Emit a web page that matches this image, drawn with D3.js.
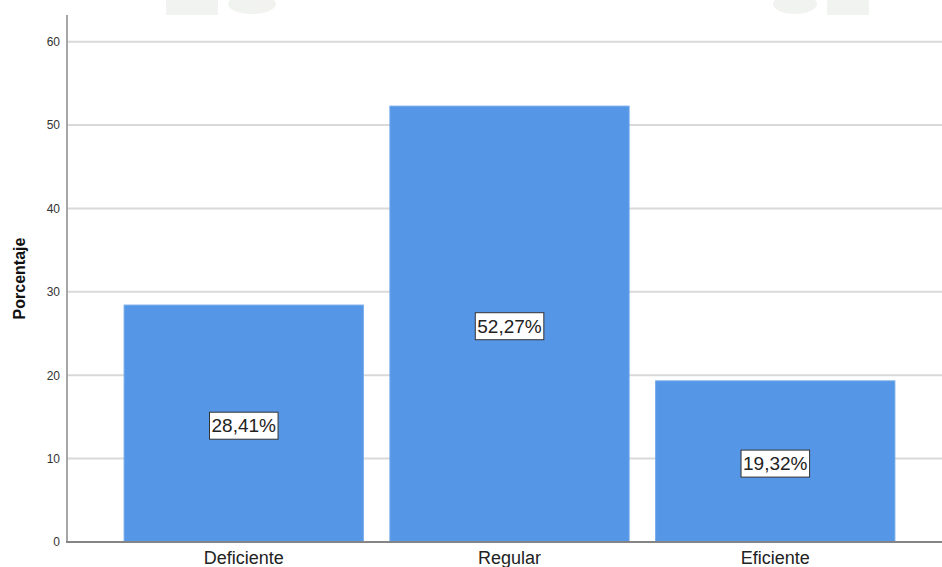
<!DOCTYPE html>
<html>
<head>
<meta charset="utf-8">
<script src="https://cdn.jsdelivr.net/npm/d3@7"></script>
<style>
  html, body { margin: 0; padding: 0; background: #fff; }
  svg { display: block; font-family: "Liberation Sans", Arial, sans-serif; }
</style>
</head>
<body>
<svg id="chart" width="942" height="567"></svg>
<script>
// Percentage of respondents per rating level
const categories = ["Deficiente", "Regular", "Eficiente"];
const percentages = [28.41, 52.27, 19.32];
const yTicks = [0, 10, 20, 30, 40, 50, 60];
const yTitle = "Porcentaje";

const svg = d3.select("#chart");
const W = 942, H = 567;
const plot = { left: 67, right: 952, top: 15, bottom: 542 };

// faint decorative shapes along the top edge
const deco = svg.append("g").attr("fill", "#eceeeb").attr("opacity", 0.7);
deco.append("rect").attr("x", 166).attr("y", 0).attr("width", 52).attr("height", 15);
deco.append("ellipse").attr("cx", 252).attr("cy", 4).attr("rx", 24).attr("ry", 10);
deco.append("ellipse").attr("cx", 795).attr("cy", 4).attr("rx", 22).attr("ry", 10);
deco.append("rect").attr("x", 827).attr("y", 0).attr("width", 42).attr("height", 15);

const x = d3.scaleBand()
  .domain(categories)
  .range([plot.left, plot.right])
  .paddingInner(0.1)
  .paddingOuter(0.215);

const y = d3.scaleLinear()
  .domain([0, 63.2])
  .range([plot.bottom, plot.top]);

// horizontal gridlines
svg.append("g")
  .selectAll("line")
  .data(yTicks.filter(t => t > 0))
  .join("line")
  .attr("x1", plot.left)
  .attr("x2", W)
  .attr("y1", d => y(d))
  .attr("y2", d => y(d))
  .attr("stroke", "#d9d9d9")
  .attr("stroke-width", 2);

// bars
svg.append("g")
  .selectAll("rect")
  .data(percentages)
  .join("rect")
  .attr("x", (d, i) => x(categories[i]))
  .attr("y", d => y(d))
  .attr("width", x.bandwidth())
  .attr("height", d => y(0) - y(d))
  .attr("fill", "#5596e6")
  .attr("stroke", "#6ea6ea")
  .attr("stroke-width", 1);

// y axis
const yAxis = svg.append("g")
  .attr("transform", `translate(${plot.left},0)`)
  .call(d3.axisLeft(y).tickValues(yTicks).tickSize(0).tickPadding(7).tickFormat(d3.format("d")));
yAxis.select(".domain").remove();
yAxis.selectAll("text")
  .attr("font-size", 12)
  .attr("fill", "#333")
  .attr("font-family", "Liberation Sans, Arial, sans-serif");
svg.append("line")
  .attr("x1", plot.left).attr("x2", plot.left)
  .attr("y1", plot.top).attr("y2", plot.bottom)
  .attr("stroke", "#a6a6a6").attr("stroke-width", 2);

// x axis
const xAxis = svg.append("g")
  .attr("transform", `translate(0,${plot.bottom})`)
  .call(d3.axisBottom(x).tickSize(0).tickPadding(9));
xAxis.select(".domain").remove();
xAxis.selectAll("text")
  .attr("font-size", 18)
  .attr("fill", "#222")
  .attr("font-family", "Liberation Sans, Arial, sans-serif");
svg.append("line")
  .attr("x1", plot.left - 1).attr("x2", W)
  .attr("y1", plot.bottom).attr("y2", plot.bottom)
  .attr("stroke", "#858585").attr("stroke-width", 2);

// y axis title
svg.append("text")
  .attr("transform", `translate(25,${(plot.top + plot.bottom) / 2}) rotate(-90)`)
  .attr("text-anchor", "middle")
  .attr("font-size", 16)
  .attr("font-weight", "bold")
  .attr("fill", "#111")
  .text(yTitle);

// value labels in boxes at bar mid-height
const fmt = v => v.toFixed(2).replace(".", ",") + "%";
const labels = svg.append("g")
  .selectAll("g")
  .data(percentages)
  .join("g")
  .attr("transform", (d, i) => `translate(${x(categories[i]) + x.bandwidth() / 2},${y(d / 2) + 2})`);
labels.append("text")
  .attr("text-anchor", "middle")
  .attr("dy", "0.35em")
  .attr("font-size", 19)
  .attr("fill", "#222")
  .text(fmt);
labels.each(function() {
  const g = d3.select(this);
  const bb = g.select("text").node().getBBox();
  g.insert("rect", "text")
    .attr("x", bb.x - 2)
    .attr("y", bb.y - 3)
    .attr("width", bb.width + 4)
    .attr("height", bb.height + 6)
    .attr("fill", "#fff")
    .attr("stroke", "#333")
    .attr("stroke-width", 1);
});
</script>
</body>
</html>
